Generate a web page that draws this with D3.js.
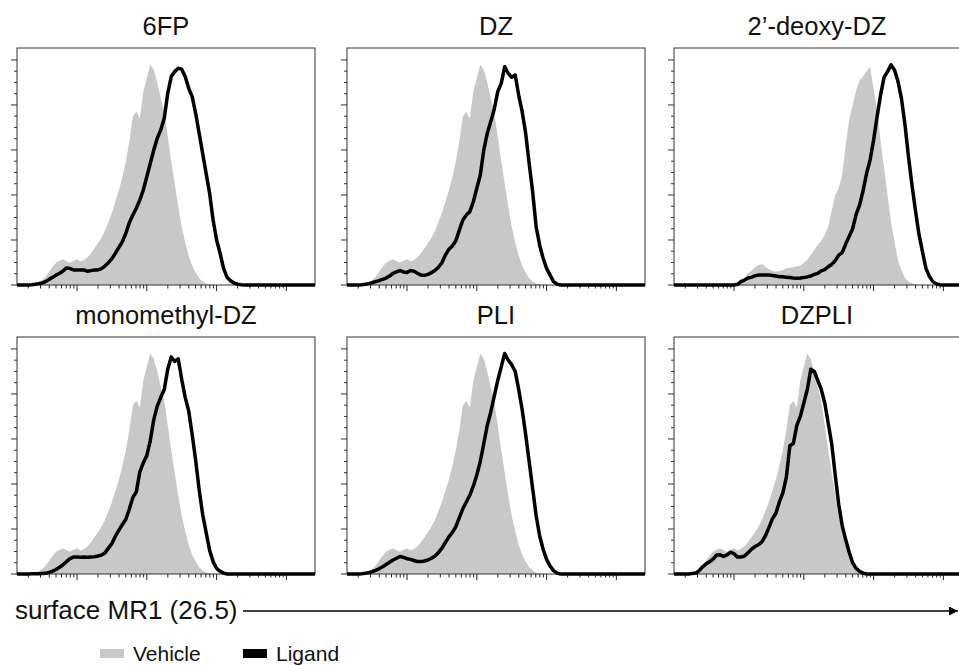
<!DOCTYPE html>
<html>
<head>
<meta charset="utf-8">
<script src="https://cdn.jsdelivr.net/npm/d3@7"></script>
<style>
  body { margin: 0; background: #fff; }
  svg { display: block; }
  text { font-family: "Liberation Sans", Arial, sans-serif; fill: #111; }
</style>
</head>
<body>
<svg id="chart" width="959" height="665"></svg>
<script>
// histogram bins, log10 of surface MR1 fluorescence
const bins = [1.20, 1.25, 1.30, 1.35, 1.40, 1.45, 1.50, 1.55, 1.60, 1.65,
              1.70, 1.75, 1.80, 1.85, 1.90, 1.95, 2.00, 2.05, 2.10, 2.15,
              2.20, 2.25, 2.30, 2.35, 2.40, 2.45, 2.50, 2.55, 2.60, 2.65,
              2.70, 2.75, 2.80, 2.85, 2.90, 2.95, 3.00, 3.05, 3.10, 3.15,
              3.20, 3.25, 3.30, 3.35, 3.40, 3.45, 3.50, 3.55, 3.60, 3.65,
              3.70, 3.75, 3.80, 3.85, 3.90, 3.95, 4.00, 4.05, 4.10, 4.15,
              4.20, 4.25, 4.30, 4.35, 4.40, 4.45, 4.50, 4.55, 4.60, 4.65,
              4.70, 4.75, 4.80, 4.85, 4.90, 4.95, 5.00];

// % of max
const vehicle = [0, 0, 0.1, 0.3, 0.6, 1.2, 2.2, 3.7, 5.9, 8.1,
                 9.9, 10.8, 11.4, 10.5, 9.9, 10.8, 11.4, 10.4, 11.1, 12.3,
                 14.1, 16.3, 18.5, 21, 24, 28, 32, 37, 42, 48,
                 55, 64, 75, 77, 74, 86, 92, 98, 95.5, 90,
                 83, 77, 66, 55, 45, 35, 26, 19, 13, 8.5,
                 5.5, 3, 1.5, 0.7, 0.3, 0, 0, 0, 0, 0,
                 0, 0, 0, 0, 0, 0, 0, 0, 0, 0,
                 0, 0, 0, 0, 0, 0, 0];

const vehicleDeoxy = [0, 0, 0, 0, 0, 0, 0, 0, 0, 0,
                      0, 0, 0, 0, 0, 0, 0.3, 1, 2.5, 3,
                      5.2, 6.2, 7.9, 8.9, 9.2, 8.1, 7, 6.2, 6, 6.2,
                      6.7, 7.4, 7.6, 7.9, 8.3, 8.6, 9.9, 11.1, 13.3, 15.6,
                      17.8, 19.7, 22.2, 26, 33, 40, 43, 49, 62, 73.5,
                      79.7, 86.5, 91, 92.6, 95, 97, 87, 78, 64, 52,
                      40, 28, 19, 11, 6.5, 3, 1.5, 0.7, 0.2, 0,
                      0, 0, 0, 0, 0, 0, 0];

const ligand6FP = [0, 0, 0, 0.1, 0.3, 0.6, 0.9, 1.5, 2.5, 3.4,
                   4.4, 5.2, 6.2, 7.6, 7.3, 6.7, 6.7, 6.7, 6.7, 6.1,
                   6.4, 6.7, 6.7, 7.3, 8.4, 9.9, 11.7, 14.1, 16.7, 19.3,
                   23, 27.7, 31.1, 34.1, 37.8, 42.2, 48.1, 54.1, 60, 65.2,
                   68.9, 74.1, 85.2, 92.6, 94.8, 96.3, 95.9, 92.6, 87.4, 83.7,
                   76.3, 67.4, 58.5, 49.6, 40.7, 28.9, 20, 14.1, 7.4, 3.4,
                   1.9, 0.9, 0.4, 0.1, 0, 0, 0, 0, 0, 0,
                   0, 0, 0, 0, 0, 0, 0];

const ligandDZ = [0, 0, 0, 0.1, 0.3, 0.6, 1, 1.5, 1.9, 2.5,
                  3.1, 4, 5.2, 5.9, 6.4, 5.8, 5.6, 6.4, 6.1, 5.2,
                  4.4, 4.3, 4.7, 5.5, 6.4, 7.9, 9.9, 13.3, 15.9, 17.3,
                  19.7, 24.4, 28.9, 31.1, 32.6, 37, 43, 48.9, 60, 67.4,
                  72.6, 78.1, 85.9, 89.6, 97, 94, 92.3, 93.3, 84.4, 77,
                  67.4, 54.1, 41.5, 25.9, 17.8, 11.9, 7.4, 4.4, 1.5, 0.4,
                  0, 0, 0, 0, 0, 0, 0, 0, 0, 0,
                  0, 0, 0, 0, 0, 0, 0];

const ligandDeoxyDZ = [0, 0, 0, 0, 0, 0, 0, 0, 0, 0,
                       0, 0, 0, 0, 0, 0, 0, 0.3, 1.5, 2.2,
                       3.1, 3.4, 4.1, 4.4, 4.4, 4.4, 4.4, 4.2, 4, 3.7,
                       3.7, 3.4, 3.3, 3.1, 3, 3.1, 3.3, 3.6, 4, 4.7,
                       5.2, 6.3, 6.8, 8.1, 9.2, 10.8, 13.3, 14.4, 18.2, 21.6,
                       25, 31.4, 35.6, 42, 49.6, 55.6, 64.4, 74.8, 84.4, 92.3,
                       94.8, 97.8, 95.5, 90.4, 82.7, 71.1, 57, 44.4, 33, 22.6,
                       14.8, 7.4, 3.8, 1.5, 0.5, 0.1, 0];

const ligandMonomethylDZ = [0, 0, 0, 0.1, 0.1, 0.1, 0.2, 0.3, 0.7, 1.3,
                            2, 3, 4.1, 5.5, 6.8, 7.5, 7.5, 7.4, 7.5, 7.4,
                            7.5, 7.7, 8, 8.4, 9.3, 11.5, 13.5, 16.8, 19.5, 22,
                            24.3, 28.9, 34, 36.5, 45.4, 49.4, 52.6, 59.3, 68.6, 74.6,
                            78.5, 82, 91, 96.4, 94.5, 95.6, 86.5, 78.5, 72.5, 62,
                            50.5, 37.5, 26.5, 18.5, 10.5, 5.5, 2.5, 1.2, 0.4, 0,
                            0, 0, 0, 0, 0, 0, 0, 0, 0, 0,
                            0, 0, 0, 0, 0, 0, 0];

const ligandPLI = [0, 0, 0, 0.1, 0.3, 0.6, 1, 1.6, 2.3, 3.2,
                   4.2, 5.2, 6.2, 7, 7.8, 7.4, 6.8, 6.5, 6, 5.5,
                   5.5, 5.8, 6.2, 7, 8, 9.5, 11.5, 14, 16.5, 18.5,
                   21, 25, 29, 32, 35, 39, 44, 50, 58, 66,
                   72, 79, 86, 92, 98, 95, 93, 90, 82, 73,
                   62, 50, 38, 26, 17, 11, 6.5, 3.5, 1.5, 0.4,
                   0, 0, 0, 0, 0, 0, 0, 0, 0, 0,
                   0, 0, 0, 0, 0, 0, 0];

const ligandDZPLI = [0, 0, 0, 0, 0.2, 0.4, 1.5, 3.2, 4.5, 5.4,
                     6.6, 8.4, 8.5, 7.8, 8.5, 9.7, 9, 7.5, 7.5, 8,
                     9.4, 11, 12.2, 13, 14.3, 17, 20.6, 24.5, 27, 32,
                     36, 43, 57, 58, 66, 70, 76, 82, 91, 90,
                     86, 82, 76, 67, 57.8, 44, 31, 21.5, 15.3, 9.7,
                     5, 2.5, 1.2, 0.4, 0, 0, 0, 0, 0, 0,
                     0, 0, 0, 0, 0, 0, 0, 0, 0, 0,
                     0, 0, 0, 0, 0, 0, 0];

const titles = ['6FP', 'DZ', '2\u2019-deoxy-DZ', 'monomethyl-DZ', 'PLI', 'DZPLI'];
const vehicleSeries = [vehicle, vehicle, vehicleDeoxy, vehicle, vehicle, vehicle];
const ligandSeries = [ligand6FP, ligandDZ, ligandDeoxyDZ, ligandMonomethylDZ, ligandPLI, ligandDZPLI];
const legendLabels = ['Vehicle', 'Ligand'];
const axisLabel = 'surface MR1 (26.5)';

// layout
const colLeft = [17, 347, 674];
const rowTop = [48, 337];
const titleCx = [166, 496, 817];
const pw = 298, ph = 237;
const vehicleColor = '#c8c8c8';

const svg = d3.select('#chart');

const x = d3.scaleLinear().domain([1.14, 5.41]).range([0, pw]);
const y = d3.scaleLinear().domain([0, 105.3]).range([ph, 0]);

const majorX = [2, 3, 4, 5];
const minorX = [];
[1, 2, 3, 4].forEach(d => d3.range(2, 10).forEach(k => {
    const v = d + Math.log10(k);
    if (v > x.domain()[0] && v < x.domain()[1]) minorX.push(v);
}));

const area = d3.area()
    .x((d, i) => x(bins[i]))
    .y0(y(0))
    .y1(d => y(d));

const line = d3.line()
    .x(d => x(d[0]))
    .y(d => y(d[1]));

const panels = svg.selectAll('.panel')
    .data(titles)
    .enter()
    .append('g')
    .classed('panel', true)
    .attr('transform', (d, i) => `translate(${colLeft[i % 3]}, ${rowTop[Math.floor(i / 3)]})`);

panels.append('text')
    .attr('x', (d, i) => titleCx[i % 3] - colLeft[i % 3])
    .attr('y', -13)
    .attr('text-anchor', 'middle')
    .attr('font-size', 25.5)
    .text(d => d);

panels.append('path')
    .attr('d', (d, i) => area(vehicleSeries[i]))
    .attr('fill', vehicleColor);

panels.append('rect')
    .attr('width', pw)
    .attr('height', ph)
    .attr('fill', 'none')
    .attr('stroke', '#333')
    .attr('stroke-width', 1);

// y ticks and x ticks
panels.each(function () {
    const g = d3.select(this);
    g.selectAll('.ytick')
        .data(d3.range(0, 101, 5))
        .enter()
        .append('line')
        .attr('x1', v => v % 20 === 0 ? -6 : -3)
        .attr('x2', 0)
        .attr('y1', v => y(v))
        .attr('y2', v => y(v))
        .attr('stroke', '#333');

    g.selectAll('.xtick')
        .data(majorX.map(v => [v, 6]).concat(minorX.map(v => [v, 3.5])))
        .enter()
        .append('line')
        .attr('x1', d => x(d[0]))
        .attr('x2', d => x(d[0]))
        .attr('y1', ph)
        .attr('y2', d => ph + d[1])
        .attr('stroke', '#222');
});

panels.append('path')
    .attr('d', (d, i) => line(
        [[x.domain()[0], 0]]
            .concat(bins.map((b, j) => [b, ligandSeries[i][j]]))
            .concat([[x.domain()[1], 0]])))
    .attr('fill', 'none')
    .attr('stroke', '#000')
    .attr('stroke-width', 3.5)
    .attr('stroke-linejoin', 'round');

// axis label with arrow
svg.append('text')
    .attr('x', 15)
    .attr('y', 619)
    .attr('font-size', 26)
    .text(axisLabel);

svg.append('defs').append('marker')
    .attr('id', 'arrow')
    .attr('viewBox', '0 0 10 10')
    .attr('refX', 10)
    .attr('refY', 5)
    .attr('markerWidth', 6)
    .attr('markerHeight', 6)
    .attr('markerUnits', 'strokeWidth')
    .attr('orient', 'auto')
    .append('path')
    .attr('d', 'M0,0L10,5L0,10Z')
    .attr('fill', '#000');

svg.append('line')
    .attr('x1', 243)
    .attr('x2', 958)
    .attr('y1', 611)
    .attr('y2', 611)
    .attr('stroke', '#000')
    .attr('stroke-width', 1.5)
    .attr('marker-end', 'url(#arrow)');

// legend
const legend = svg.selectAll('.legend')
    .data(legendLabels)
    .enter()
    .append('g')
    .classed('legend', true)
    .attr('transform', (d, i) => `translate(${100 + i * 143}, 649)`);

legend.append('rect')
    .attr('width', 24)
    .attr('height', 9)
    .attr('fill', (d, i) => i === 0 ? vehicleColor : '#000');

legend.append('text')
    .attr('x', 33)
    .attr('y', 12)
    .attr('font-size', 21)
    .text(d => d);
</script>
</body>
</html>
